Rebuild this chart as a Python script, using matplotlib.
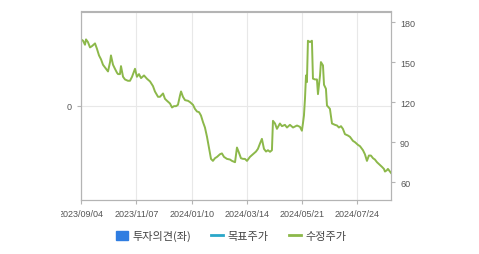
import matplotlib
matplotlib.use("Agg")
import matplotlib.pyplot as plt
from matplotlib.lines import Line2D
from matplotlib.patches import Patch
from matplotlib.transforms import Bbox, TransformedBbox

# trading-day index vs adjusted price
day_idx = [0, 1.6, 3.1, 3.9, 5.4, 7.0, 8.6, 10.9, 12.4, 14.0,
           15.6, 17.1, 18.7, 20.2, 21.0, 22.6, 23.3, 24.9, 26.4, 28.0,
           28.8, 30.3, 31.1, 32.7, 34.2, 36.5, 38.1, 39.7, 42.0, 43.5,
           45.1, 46.7, 49.0, 51.3, 53.7, 56.0, 57.5, 59.9, 61.4, 63.8,
           65.3, 66.9, 69.2, 70.8, 72.3, 73.9, 75.4, 77.0, 77.8, 79.3,
           80.9, 83.2, 84.8, 87.1, 88.6, 90.2, 91.8, 93.3, 94.9, 96.4,
           98.0, 99.5, 101.1, 102.6, 104.2, 105.8, 108.1, 109.6, 111.2, 113.5,
           115.9, 117.4, 119.8, 121.3, 122.9, 124.4, 126.0, 127.5, 129.1, 131.4,
           133.7, 136.1, 137.6, 139.2, 140.7, 142.3, 143.9, 145.4, 147.0, 148.5,
           149.3, 150.9, 152.4, 154.7, 156.3, 158.6, 160.2, 162.5, 164.9, 168.0,
           170.3, 171.8, 172.6, 173.4, 174.2, 175.0, 175.7, 176.5, 178.1, 179.6,
           180.4, 182.0, 183.5, 184.3, 185.9, 186.6, 188.2, 189.0, 190.5, 191.3,
           193.6, 195.2, 197.5, 199.1, 200.6, 202.2, 203.7, 205.3, 207.6, 209.2,
           211.5, 213.1, 215.4, 217.0, 219.3, 220.8, 222.4, 223.9, 225.5, 227.1,
           228.6, 230.2, 232.5, 234.1, 235.6, 236.4, 237.9, 238.7, 240.3, 241.1]
price = [167, 166, 163, 167, 165, 161, 162, 164, 160, 155,
         152, 148, 146, 144, 143, 150, 155, 148, 145, 142,
         141, 141, 147, 139, 137, 136, 136, 139, 145, 139,
         141, 138, 140, 137.5, 135.5, 132, 128, 124, 124, 126.5,
         122.5, 121, 119, 116, 117, 117, 118, 125, 128, 124,
         121.5, 121, 120, 118, 115, 113, 112.5, 110, 105, 101,
         94, 86, 77.5, 76, 78, 79, 81, 81.6, 79, 77.5,
         77, 76, 75, 86, 82, 78, 77.5, 77.5, 76, 79,
         81, 83, 85, 89, 92.5, 85, 83, 84, 82.8, 84,
         106, 104, 100, 104, 102, 103, 101, 103, 101, 102.5,
         101.5, 98.6, 104, 110, 122.5, 140, 135, 166, 165, 166,
         137.6, 137, 137, 126, 140, 150, 147.5, 133, 130, 117.5,
         115, 104, 103, 102.5, 101, 102, 100, 96, 95, 94,
         91, 90, 88, 87, 84, 81, 76, 80, 80, 78,
         77, 75, 73, 71.5, 70, 68, 69, 70, 68, 67]

tick_pos = [0, 43, 86, 129, 172, 215]
tick_labels = ["2023/09/04", "2023/11/07", "2024/01/10", "2024/03/14", "2024/05/21", "2024/07/24"]
price_ticks = [60, 90, 120, 150, 180]

grey = "#b4b4b4"
txt = "#555555"
green = "#8cb84a"

fig = plt.figure(figsize=(4.79, 2.55), dpi=100)
ax = fig.add_axes([81 / 479, 1 - 201 / 255, 310 / 479, 188.5 / 255])
ax2 = ax.twinx()

# left axis: opinion scale, only 0 shown
ax.set_ylim(-1, 1)
ax.set_yticks([0])
ax.set_xlim(0, 241.1)
ax.set_xticks(tick_pos)
ax.set_xticklabels(tick_labels)
ax.grid(True, color="#e8e8e8", linewidth=0.8)
ax.set_axisbelow(True)

ax2.plot(day_idx, price, color=green, linewidth=1.4)
ax2.set_ylim(46.7, 187.9)
ax2.set_yticks(price_ticks)

for a in (ax, ax2):
    for s in a.spines.values():
        s.set_color(grey)
        s.set_linewidth(0.8)
    a.tick_params(colors=grey, labelcolor=txt, labelsize=6.5, length=3, width=0.8)
for lbl in ax.get_xticklabels() + ax.get_yticklabels() + ax2.get_yticklabels():
    lbl.set_fontfamily("Liberation Sans")

# first date label is cut at the left in the original
first = ax.get_xticklabels()[0]
first.set_clip_on(True)
first.set_clip_box(TransformedBbox(Bbox([[61 / 479, 0], [1, 1]]), fig.transFigure))

handles = [
    Patch(facecolor="#2f7de1", edgecolor="#2f7de1"),
    Line2D([], [], color="#2aa7c9", linewidth=2),
    Line2D([], [], color=green, linewidth=2),
]
fig.legend(handles, ["투자의견(좌)", "목표주가", "수정주가"], loc="center",
           bbox_to_anchor=(0.482, 0.071), ncol=3, frameon=False,
           handlelength=1.1, handleheight=0.9, handletextpad=0.4, columnspacing=1.8,
           prop={"family": ["Noto Sans CJK KR", "DejaVu Sans"], "size": 8},
           labelcolor="#444444")

fig.savefig("out.png", dpi=100)
